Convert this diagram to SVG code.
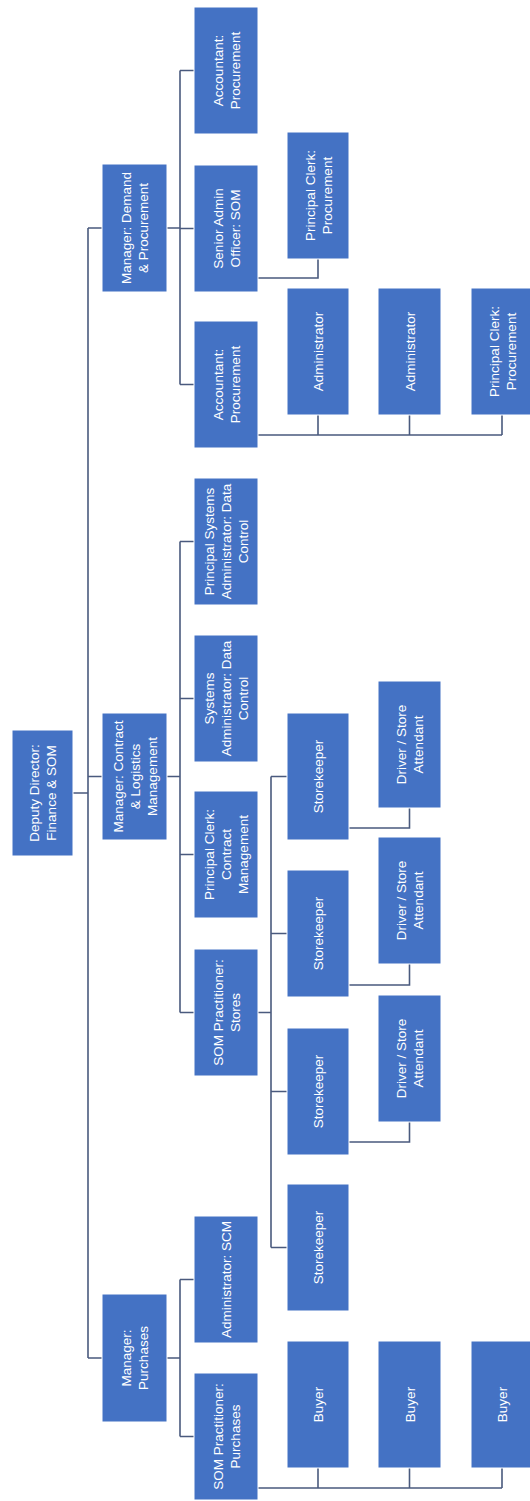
<svg xmlns="http://www.w3.org/2000/svg" width="530" height="1501" viewBox="0 0 530 1501">
<style>
.box{fill:#4472C4;stroke:#ffffff;stroke-width:1}
.lbl{fill:#ffffff;font-family:"Liberation Sans",Arial,sans-serif;font-size:13.5px;text-anchor:middle}
.con{fill:none;stroke:#4a5a7e;stroke-width:1.6}
</style>
<rect width="530" height="1501" fill="#ffffff"/>
<g id="connectors" class="con">
<path d="M73,793H88M88,228V1358M88,228H102M88,776.5H102M88,1358H102"/>
<path d="M167,228H180M180,70.5V384.5M180,70.5H194M180,228.5H194M180,384.5H194"/>
<path d="M167,776.5H180M180,541.5V1012.5M180,541.5H194M180,698.5H194M180,854.5H194M180,1012.5H194"/>
<path d="M167,1358H180M180,1279.5V1436.5M180,1279.5H194M180,1436.5H194"/>
<path d="M258,278H318V259"/>
<path d="M258,435H502M318,435V415M409.5,435V415M502,435V415"/>
<path d="M258,1012.5H271M271,776.5V1247.5M271,776.5H287M271,933.5H287M271,1091.5H287M271,1247.5H287"/>
<path d="M349,828H409.5V808M349,985H409.5V964M349,1142H409.5V1122"/>
<path d="M258,1488H502M318,1488V1468M409.5,1488V1468M502,1488V1468"/>
</g>
<g id="deputy"><rect class="box" x="12" y="730" width="61" height="126"/><text class="lbl" transform="translate(42.5,793) rotate(-90)"><tspan x="0" dy="-3.5">Deputy Director:</tspan><tspan x="0" dy="17">Finance &amp; SOM</tspan></text></g>
<g id="mgr-demand"><rect class="box" x="102" y="164" width="65" height="128"/><text class="lbl" transform="translate(134.5,228) rotate(-90)"><tspan x="0" dy="-3.5">Manager: Demand</tspan><tspan x="0" dy="17">&amp; Procurement</tspan></text></g>
<g id="mgr-contract"><rect class="box" x="102" y="713" width="65" height="127"/><text class="lbl" transform="translate(134.5,776.5) rotate(-90)"><tspan x="0" dy="-12">Manager: Contract</tspan><tspan x="0" dy="17">&amp; Logistics</tspan><tspan x="0" dy="17">Management</tspan></text></g>
<g id="mgr-purchases"><rect class="box" x="102" y="1294" width="65" height="128"/><text class="lbl" transform="translate(134.5,1358) rotate(-90)"><tspan x="0" dy="-3.5">Manager:</tspan><tspan x="0" dy="17">Purchases</tspan></text></g>
<g id="acc1"><rect class="box" x="194" y="7" width="64" height="127"/><text class="lbl" transform="translate(226,70.5) rotate(-90)"><tspan x="0" dy="-3.5">Accountant:</tspan><tspan x="0" dy="17">Procurement</tspan></text></g>
<g id="sao"><rect class="box" x="194" y="165" width="64" height="127"/><text class="lbl" transform="translate(226,228.5) rotate(-90)"><tspan x="0" dy="-3.5">Senior Admin</tspan><tspan x="0" dy="17">Officer: SOM</tspan></text></g>
<g id="acc2"><rect class="box" x="194" y="321" width="64" height="127"/><text class="lbl" transform="translate(226,384.5) rotate(-90)"><tspan x="0" dy="-3.5">Accountant:</tspan><tspan x="0" dy="17">Procurement</tspan></text></g>
<g id="psa"><rect class="box" x="194" y="478" width="64" height="127"/><text class="lbl" transform="translate(226,541.5) rotate(-90)"><tspan x="0" dy="-12">Principal Systems</tspan><tspan x="0" dy="17">Administrator: Data</tspan><tspan x="0" dy="17">Control</tspan></text></g>
<g id="sa"><rect class="box" x="194" y="635" width="64" height="127"/><text class="lbl" transform="translate(226,698.5) rotate(-90)"><tspan x="0" dy="-12">Systems</tspan><tspan x="0" dy="17">Administrator: Data</tspan><tspan x="0" dy="17">Control</tspan></text></g>
<g id="pcc"><rect class="box" x="194" y="791" width="64" height="127"/><text class="lbl" transform="translate(226,854.5) rotate(-90)"><tspan x="0" dy="-12">Principal Clerk:</tspan><tspan x="0" dy="17">Contract</tspan><tspan x="0" dy="17">Management</tspan></text></g>
<g id="soms"><rect class="box" x="194" y="949" width="64" height="127"/><text class="lbl" transform="translate(226,1012.5) rotate(-90)"><tspan x="0" dy="-3.5">SOM Practitioner:</tspan><tspan x="0" dy="17">Stores</tspan></text></g>
<g id="adminscm"><rect class="box" x="194" y="1216" width="64" height="127"/><text class="lbl" transform="translate(226,1279.5) rotate(-90)"><tspan x="0" dy="5">Administrator: SCM</tspan></text></g>
<g id="somp"><rect class="box" x="194" y="1373" width="64" height="127"/><text class="lbl" transform="translate(226,1436.5) rotate(-90)"><tspan x="0" dy="-3.5">SOM Practitioner:</tspan><tspan x="0" dy="17">Purchases</tspan></text></g>
<g id="pcp1"><rect class="box" x="287" y="132" width="62" height="127"/><text class="lbl" transform="translate(318,195.5) rotate(-90)"><tspan x="0" dy="-3.5">Principal Clerk:</tspan><tspan x="0" dy="17">Procurement</tspan></text></g>
<g id="admin1"><rect class="box" x="287" y="288" width="62" height="127"/><text class="lbl" transform="translate(318,351.5) rotate(-90)"><tspan x="0" dy="5">Administrator</tspan></text></g>
<g id="admin2"><rect class="box" x="378" y="288" width="63" height="127"/><text class="lbl" transform="translate(409.5,351.5) rotate(-90)"><tspan x="0" dy="5">Administrator</tspan></text></g>
<g id="pcp2"><rect class="box" x="471" y="288" width="62" height="127"/><text class="lbl" transform="translate(502,351.5) rotate(-90)"><tspan x="0" dy="-3.5">Principal Clerk:</tspan><tspan x="0" dy="17">Procurement</tspan></text></g>
<g id="sk1"><rect class="box" x="287" y="713" width="62" height="127"/><text class="lbl" transform="translate(318,776.5) rotate(-90)"><tspan x="0" dy="5">Storekeeper</tspan></text></g>
<g id="sk2"><rect class="box" x="287" y="870" width="62" height="127"/><text class="lbl" transform="translate(318,933.5) rotate(-90)"><tspan x="0" dy="5">Storekeeper</tspan></text></g>
<g id="sk3"><rect class="box" x="287" y="1028" width="62" height="127"/><text class="lbl" transform="translate(318,1091.5) rotate(-90)"><tspan x="0" dy="5">Storekeeper</tspan></text></g>
<g id="sk4"><rect class="box" x="287" y="1184" width="62" height="127"/><text class="lbl" transform="translate(318,1247.5) rotate(-90)"><tspan x="0" dy="5">Storekeeper</tspan></text></g>
<g id="drv1"><rect class="box" x="378" y="681" width="63" height="127"/><text class="lbl" transform="translate(409.5,744.5) rotate(-90)"><tspan x="0" dy="-3.5">Driver / Store</tspan><tspan x="0" dy="17">Attendant</tspan></text></g>
<g id="drv2"><rect class="box" x="378" y="837" width="63" height="127"/><text class="lbl" transform="translate(409.5,900.5) rotate(-90)"><tspan x="0" dy="-3.5">Driver / Store</tspan><tspan x="0" dy="17">Attendant</tspan></text></g>
<g id="drv3"><rect class="box" x="378" y="995" width="63" height="127"/><text class="lbl" transform="translate(409.5,1058.5) rotate(-90)"><tspan x="0" dy="-3.5">Driver / Store</tspan><tspan x="0" dy="17">Attendant</tspan></text></g>
<g id="buyer1"><rect class="box" x="287" y="1341" width="62" height="127"/><text class="lbl" transform="translate(318,1404.5) rotate(-90)"><tspan x="0" dy="5">Buyer</tspan></text></g>
<g id="buyer2"><rect class="box" x="378" y="1341" width="63" height="127"/><text class="lbl" transform="translate(409.5,1404.5) rotate(-90)"><tspan x="0" dy="5">Buyer</tspan></text></g>
<g id="buyer3"><rect class="box" x="471" y="1341" width="62" height="127"/><text class="lbl" transform="translate(502,1404.5) rotate(-90)"><tspan x="0" dy="5">Buyer</tspan></text></g>
</svg>
